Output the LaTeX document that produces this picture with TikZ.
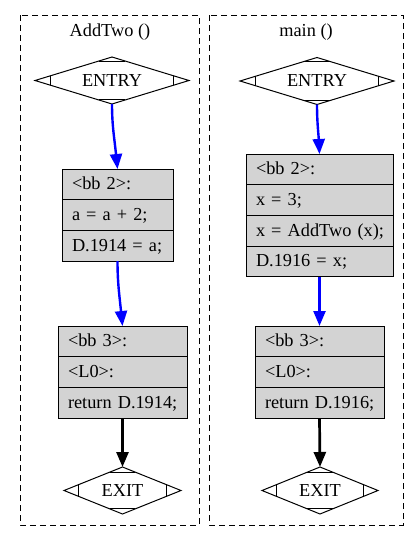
\documentclass[tikz,border=0pt]{standalone}
\usepackage{fontspec}
\setmainfont{Liberation Serif}
\usetikzlibrary{positioning,shapes.geometric,arrows.meta,calc}
\definecolor{hellgrau}{RGB}{211,211,211}
\tikzset{
	schrift/.style={font=\fontsize{18.3}{22}\selectfont, text height=13pt, text depth=2pt},
	zeile/.style={schrift, rectangle, draw, fill=hellgrau, line width=1pt, minimum height=30.7pt, inner xsep=10pt, inner ysep=0pt, outer sep=0pt, align=left, text width=#1, execute at begin node=\hbox\bgroup, execute at end node=\egroup},
	raute/.style={schrift, diamond, draw, line width=1pt, aspect=3, inner sep=0pt, outer sep=0pt},
	rand/.style={line width=1pt},
	gruppe/.style={draw, line width=1pt, dash pattern=on 6pt off 4pt},
	blaukante/.style={draw=blue, line width=2.4pt, -{Triangle[length=15pt,width=12pt]}},
	schwarzkante/.style={draw=black, line width=2.7pt, -{Triangle[length=15pt,width=12pt]}}
}
%Ecken der Raute
\newcommand{\rautenecken}[1]{%
	\draw[rand] ($(#1.west)!16pt!(#1.north)$) -- ($(#1.west)!16pt!(#1.south)$);
	\draw[rand] ($(#1.east)!16pt!(#1.north)$) -- ($(#1.east)!16pt!(#1.south)$);
	\draw[rand] ($(#1.north)!14pt!(#1.west)$) -- ($(#1.north)!14pt!(#1.east)$);
	\draw[rand] ($(#1.south)!14pt!(#1.west)$) -- ($(#1.south)!14pt!(#1.east)$);
}
\begin{document}
\begin{tikzpicture}[x=1pt, y=-1pt]
	\useasboundingbox (0,0) rectangle (420,541);
	
	%Gruppen
	\draw[gruppe] (20,15) rectangle (199,525);
	\draw[gruppe] (209,15) rectangle (403,525);
	\node[schrift] (titelL) at (110,31) {AddTwo ()};
	\node[schrift] (titelR) at (306,31) {main ()};
	
	%AddTwo
	\node[raute, minimum width=154pt, minimum height=47pt] (entryL) at (112,80.5) {ENTRY};
	\node[zeile=91pt, anchor=north] (L2a) at (117.5,169) {<bb 2>:};
	\node[zeile=91pt, below=0pt of L2a] (L2b) {a = a + 2;};
	\node[zeile=91pt, below=0pt of L2b] (L2c) {D.1914 = a;};
	\node[zeile=109pt, anchor=north] (L3a) at (122.5,326) {<bb 3>:};
	\node[zeile=109pt, below=0pt of L3a] (L3b) {<L0>:};
	\node[zeile=109pt, below=0pt of L3b] (L3c) {return D.1914;};
	\node[raute, minimum width=117pt, minimum height=47pt] (exitL) at (122.5,490.5) {EXIT};
	\rautenecken{entryL}
	\rautenecken{exitL}
	
	\draw[blaukante] (entryL.south) .. controls +(0,22) and +(-3,-30) .. (L2a.north);
	\draw[blaukante] (L2c.south) .. controls +(0,22) and +(-3,-30) .. (L3a.north);
	\draw[schwarzkante] (L3c.south) -- (exitL.north);
	
	%main
	\node[raute, minimum width=154pt, minimum height=47pt] (entryR) at (317,81) {ENTRY};
	\node[zeile=127pt, anchor=north] (R2a) at (319.5,154) {<bb 2>:};
	\node[zeile=127pt, below=0pt of R2a] (R2b) {x = 3;};
	\node[zeile=127pt, below=0pt of R2b] (R2c) {x = AddTwo (x);};
	\node[zeile=127pt, below=0pt of R2c] (R2d) {D.1916 = x;};
	\node[zeile=109pt, anchor=north] (R3a) at (319.5,326) {<bb 3>:};
	\node[zeile=109pt, below=0pt of R3a] (R3b) {<L0>:};
	\node[zeile=109pt, below=0pt of R3b] (R3c) {return D.1916;};
	\node[raute, minimum width=116pt, minimum height=47pt] (exitR) at (320,490.5) {EXIT};
	\rautenecken{entryR}
	\rautenecken{exitR}
	
	\draw[blaukante] (entryR.south) .. controls +(0,18) and +(-1,-20) .. (R2a.north);
	\draw[blaukante] (R2d.south) -- (R3a.north);
	\draw[schwarzkante] (R3c.south) -- (exitR.north);
\end{tikzpicture}
\end{document}
